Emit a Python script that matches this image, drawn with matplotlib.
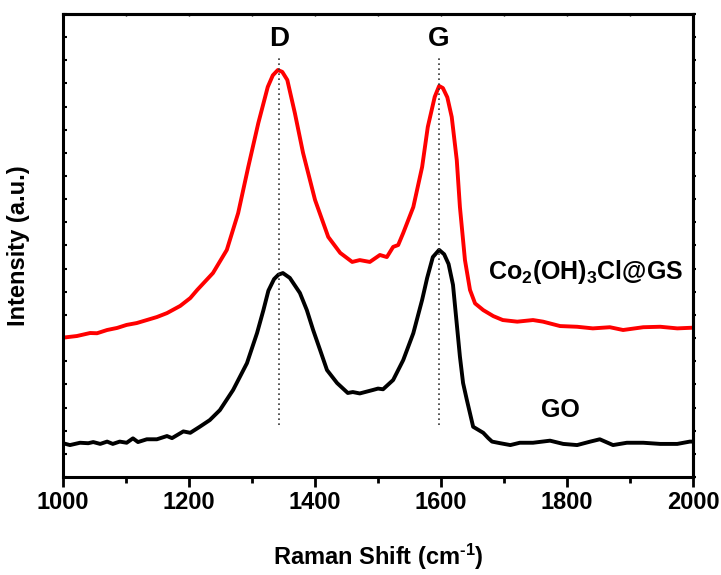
import matplotlib
matplotlib.use("Agg")
from matplotlib import pyplot as plt

plt.rcParams['font.family'] = ['Liberation Sans', 'DejaVu Sans']
plt.rcParams['font.weight'] = 'bold'
plt.rcParams['mathtext.fontset'] = 'custom'
plt.rcParams['mathtext.rm'] = 'Liberation Sans:bold'
plt.rcParams['mathtext.default'] = 'rm'

# Co2(OH)3Cl@GS (red)
gs_shift = [1000, 1022, 1043, 1054, 1070, 1086, 1101, 1117, 1133, 1149, 1165, 1186, 1202,
            1213, 1238, 1260, 1278, 1294, 1310, 1325, 1333, 1341, 1348, 1356, 1368, 1381,
            1400, 1421, 1440, 1459, 1471, 1487, 1503, 1514, 1524, 1532, 1540, 1556, 1570,
            1579, 1590, 1597, 1603, 1610, 1617, 1625, 1630, 1638, 1646, 1654, 1667, 1683,
            1698, 1721, 1746, 1762, 1789, 1816, 1841, 1868, 1889, 1921, 1948, 1975, 2000]
gs_int = [602, 609, 622, 621, 635, 644, 657, 665, 678, 691, 708, 739, 773,
          808, 881, 981, 1140, 1339, 1529, 1685, 1735, 1758, 1750, 1715, 1572, 1400,
          1197, 1037, 968, 929, 937, 929, 959, 950, 994, 1002, 1054, 1166, 1339,
          1512, 1642, 1689, 1680, 1640, 1555, 1369, 1166, 937, 808, 750, 721, 695,
          678, 671, 678, 671, 652, 649, 642, 647, 635, 647, 649, 642, 645]

# GO (black)
go_shift = [1000, 1011, 1027, 1040, 1048, 1059, 1070, 1079, 1090, 1101, 1111, 1119, 1133,
            1149, 1165, 1173, 1191, 1202, 1217, 1233, 1249, 1270, 1292, 1308, 1318, 1326,
            1335, 1342, 1349, 1360, 1376, 1387, 1397, 1408, 1419, 1435, 1452, 1460, 1471,
            1492, 1500, 1508, 1524, 1540, 1556, 1570, 1578, 1587, 1597, 1605, 1612, 1619,
            1630, 1635, 1641, 1651, 1667, 1675, 1681, 1694, 1710, 1725, 1746, 1773, 1794,
            1816, 1837, 1852, 1873, 1895, 1921, 1948, 1975, 1995, 2000]
go_int = [146, 138, 148, 146, 151, 143, 153, 143, 153, 148, 167, 151, 163,
          163, 177, 168, 197, 191, 217, 246, 289, 376, 492, 622, 720, 805,
          855, 874, 881, 860, 795, 721, 635, 549, 462, 406, 363, 367, 361,
          376, 382, 379, 419, 505, 621, 765, 860, 950, 981, 962, 920, 830,
          520, 406, 333, 217, 191, 168, 153, 146, 138, 148, 148, 157, 143,
          138, 153, 163, 138, 148, 148, 143, 143, 153, 153]

peak_pos = [1343, 1597]
peak_names = ["D", "G"]

fig = plt.figure(figsize=(7.21, 5.75), dpi=100)
ax = fig.add_axes([0.0874, 0.1704, 0.8738, 0.8053])

ax.plot(gs_shift, gs_int, color='#ff0000', lw=2.8)
ax.plot(go_shift, go_int, color='black', lw=2.8)

for p, name in zip(peak_pos, peak_names):
    ax.plot([p, p], [225, 1810], color='#333333', lw=1.2, ls=(0, (1, 2)))
    ax.text(p, 1890, name, ha='center', va='center', fontsize=20, fontweight='bold')

ax.text(1829, 885, r'Co$_2$(OH)$_3$Cl@GS', ha='center', va='center', fontsize=18,
        fontweight='bold')
ax.text(1789, 290, 'GO', ha='center', va='center', fontsize=18, fontweight='bold')

ax.set_xlim(1000, 2000)
ax.set_ylim(0, 2000)
ax.set_xticks([1000, 1200, 1400, 1600, 1800, 2000])
ax.set_xticks(range(1100, 2000, 200), minor=True)
ax.set_yticks(range(0, 2001, 100))
ax.set_yticklabels([])

ax.tick_params(axis='x', which='major', direction='out', length=7, width=2,
               labelsize=17, pad=3)
ax.tick_params(axis='x', which='minor', direction='out', length=4.5, width=2)
ax.tick_params(axis='y', which='major', direction='in', length=3, width=1.5)
for lbl in ax.get_xticklabels():
    lbl.set_fontweight('bold')

# mirrored ticks on the right (out) and top (tiny, in)
ax_r = ax.secondary_yaxis('right')
ax_r.set_yticks(range(0, 2001, 100))
ax_r.set_yticklabels([])
ax_r.tick_params(direction='out', length=2.5, width=1.5)
ax_t = ax.secondary_xaxis('top')
ax_t.set_xticks(range(1000, 2001, 100))
ax_t.set_xticklabels([])
ax_t.tick_params(direction='in', length=1.5, width=1)

for s in ax.spines.values():
    s.set_linewidth(2.2)
ax_r.spines['right'].set_linewidth(2.2)
ax_t.spines['top'].set_linewidth(2.2)

ax.set_xlabel(r'Raman Shift (cm$^{\text{-1}}$)', fontsize=17, fontweight='bold',
              labelpad=20)
ax.set_ylabel('Intensity (a.u.)', fontsize=17, fontweight='bold', labelpad=20)

fig.savefig('out.png', dpi=100)
